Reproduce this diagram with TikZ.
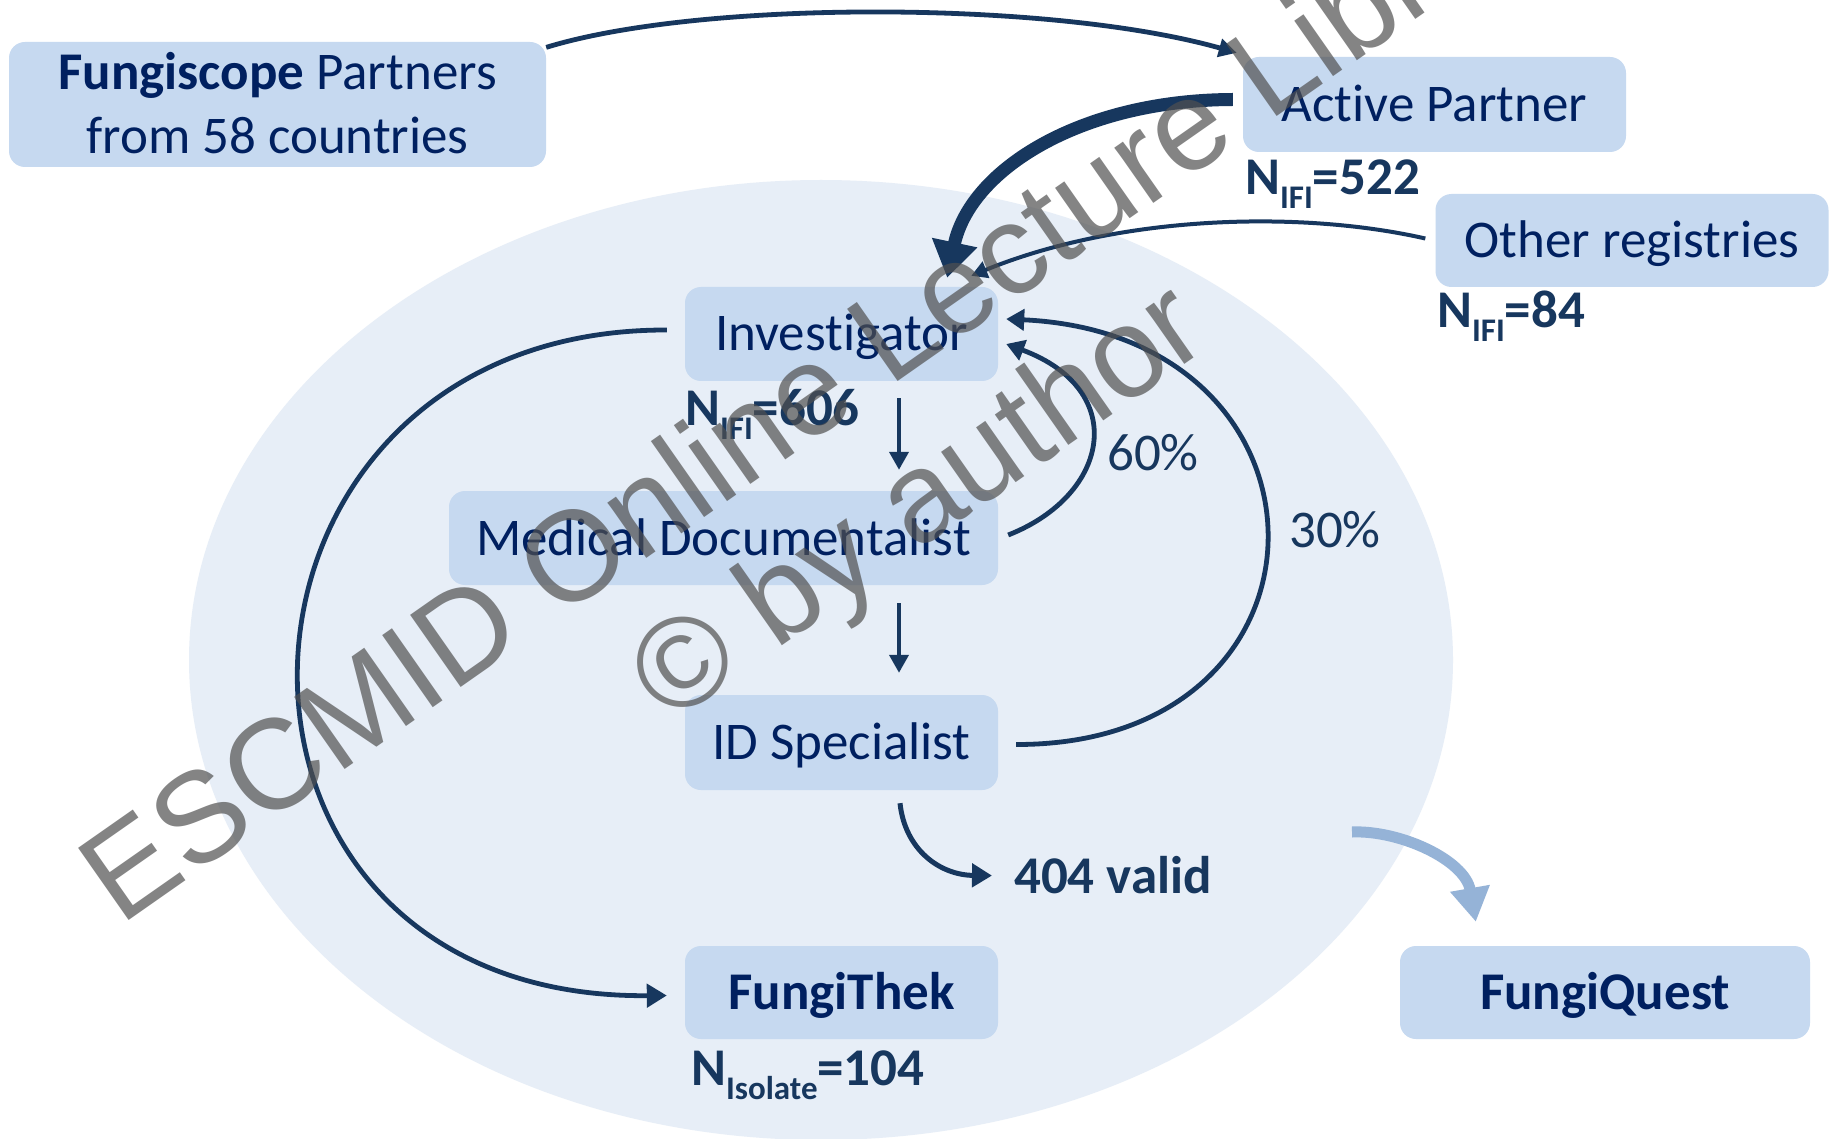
\documentclass[tikz,border=0pt]{standalone}
\usepackage{fontspec}
\setmainfont{Carlito}[Ligatures=NoCommon]
\newfontfamily\wmfont{Liberation Sans}
\usetikzlibrary{arrows.meta,calc}
\definecolor{navy}{RGB}{0,32,96}
\definecolor{arrowc}{RGB}{23,55,94}
\definecolor{boxfill}{RGB}{198,217,240}
\definecolor{ellfill}{RGB}{231,238,247}
\definecolor{lightarrow}{RGB}{149,179,215}
\definecolor{wmgray}{RGB}{80,80,80}
\newcommand{\nsub}[1]{\raisebox{-14pt}{\fontsize{33}{33}\selectfont #1}}
\begin{document}
\begin{tikzpicture}[x=1pt,y=-1pt,
  box/.style={fill=boxfill, rounded corners=16pt, inner sep=0pt, text=navy,
    font=\fontsize{53}{64}\selectfont, text height=34pt, text depth=0pt},
  boldbox/.style={box, font=\bfseries\fontsize{53}{64}\selectfont},
  fstext/.style={text=navy, font=\fontsize{53}{64}\selectfont, inner sep=0pt, anchor=base},
  lab/.style={text=arrowc, font=\bfseries\fontsize{53}{64}\selectfont, inner sep=0pt, anchor=base west},
  pct/.style={text=arrowc, font=\fontsize{53}{64}\selectfont, inner sep=0pt, anchor=base west},
  conn/.style={draw=arrowc, line width=4.8pt},
  wm/.style={rotate=35, text=wmgray, text opacity=0.7, font=\wmfont\fontsize{128}{150}\selectfont, inner sep=0pt, anchor=base}
]
\useasboundingbox (0,0) rectangle (1829,1139);
\clip (0,0) rectangle (1829,1139);
\fill[white] (0,0) rectangle (1829,1139);
% background ellipse
\fill[ellfill] (821,660) ellipse [x radius=632pt, y radius=480pt];

% boxes
\node[box, minimum width=537pt, minimum height=125pt] (fs) at (277.5,104.5) {};
\node[fstext] (fs1) at (277.5,90) {\textbf{Fungiscope} Partners};
\node[fstext] (fs2) at (277.5,154) {from 58 countries};
\node[box, minimum width=383pt, minimum height=95pt] (ap) at (1434.5,104.5) {Active Partner};
\node[box, minimum width=393pt, minimum height=93pt] (or) at (1632,240.5) {Other registries};
\node[box, minimum width=313pt, minimum height=94pt] (inv) at (841.5,334) {Investigator};
\node[box, minimum width=549pt, minimum height=94pt] (md) at (723.5,538) {Medical Documentalist};
\node[box, minimum width=313pt, minimum height=95pt] (ids) at (841.5,742.5) {ID Specialist};
\node[boldbox, minimum width=313pt, minimum height=93pt] (ft) at (841.5,992.5) {FungiThek};
\node[boldbox, minimum width=410pt, minimum height=93pt] (fq) at (1605,992.5) {FungiQuest};

% labels
\node[lab] (n522) at (1245,195) {N\nsub{IFI}=522};
\node[lab] (n84) at (1437,328) {N\nsub{IFI}=84};
\node[lab] (n606) at (685,425) {N\nsub{IFI}=606};
\node[lab] (n104) at (691,1085) {N\nsub{Isolate}=104};
\node[lab] (v404) at (1014,893) {404 valid};
\node[pct] (p60) at (1107,470) {60\%};
\node[pct] (p30) at (1289,547) {30\%};

% connectors
\draw[conn, -{Triangle[length=18pt,width=18pt]}]
  (fs.12) .. controls (700,0) and (1050,0) .. ($(ap.north west)+(-6,-4)$);
\draw[draw=arrowc, line width=13pt, -{Triangle[length=36pt,width=44pt]}]
  ($(ap.west)+(-10,-5)$) .. controls (1080,100) and (970,170) .. ($(inv.north east)+(-51,-9)$);
\draw[conn, line width=4pt, -{Triangle[length=16pt,width=17pt]}]
  ($(or.west)+(-10,-2)$) .. controls (1300,210) and (1120,215) .. ($(inv.north east)+(-27,-11)$);
\draw[conn, -{Triangle[length=18pt,width=21pt]}]
  ($(md.east)+(10,-3)$) .. controls (1110,495) and (1130,390) .. ($(inv.east)+(8,10)$);
\draw[conn, -{Triangle[length=18pt,width=21pt]}]
  ($(ids.east)+(18,2)$) .. controls (1351,745) and (1351,335) .. ($(inv.east)+(8,-15)$);
\draw[conn, -{Triangle[length=20pt,width=23pt]}]
  ($(inv.west)+(-18,-4)$) .. controls (190,329) and (165,1000) .. ($(ft.west)+(-18,3)$);
\draw[conn, line width=4pt, -{Triangle[length=18pt,width=19pt]}]
  ($(inv.south)+(57.5,17)$) -- ($(md.north)+(175.5,-21)$);
\draw[conn, line width=4pt, -{Triangle[length=18pt,width=19pt]}]
  ($(md.south)+(175.5,18)$) -- ($(ids.north)+(57.5,-22)$);
\draw[conn, line width=5pt, -{Triangle[length=20pt,width=23pt]}]
  ($(ids.south)+(58.5,13)$) .. controls (905,850) and (940,875) .. ($(v404.west)+(-22,1)$);
\coordinate (fqsrc) at (1352,832);
\draw[draw=lightarrow, line width=11pt, -{Triangle[length=34pt,width=38pt]}]
  (fqsrc) .. controls (1400,830) and (1465,860) .. ($(fq.north west)+(76,-24)$);

% watermark
\node[wm] (wm1) at (855,412) {ESCMID Online Lecture Library};
\node[wm] (wm2) at (941,535) {© by author};
\end{tikzpicture}
\end{document}
